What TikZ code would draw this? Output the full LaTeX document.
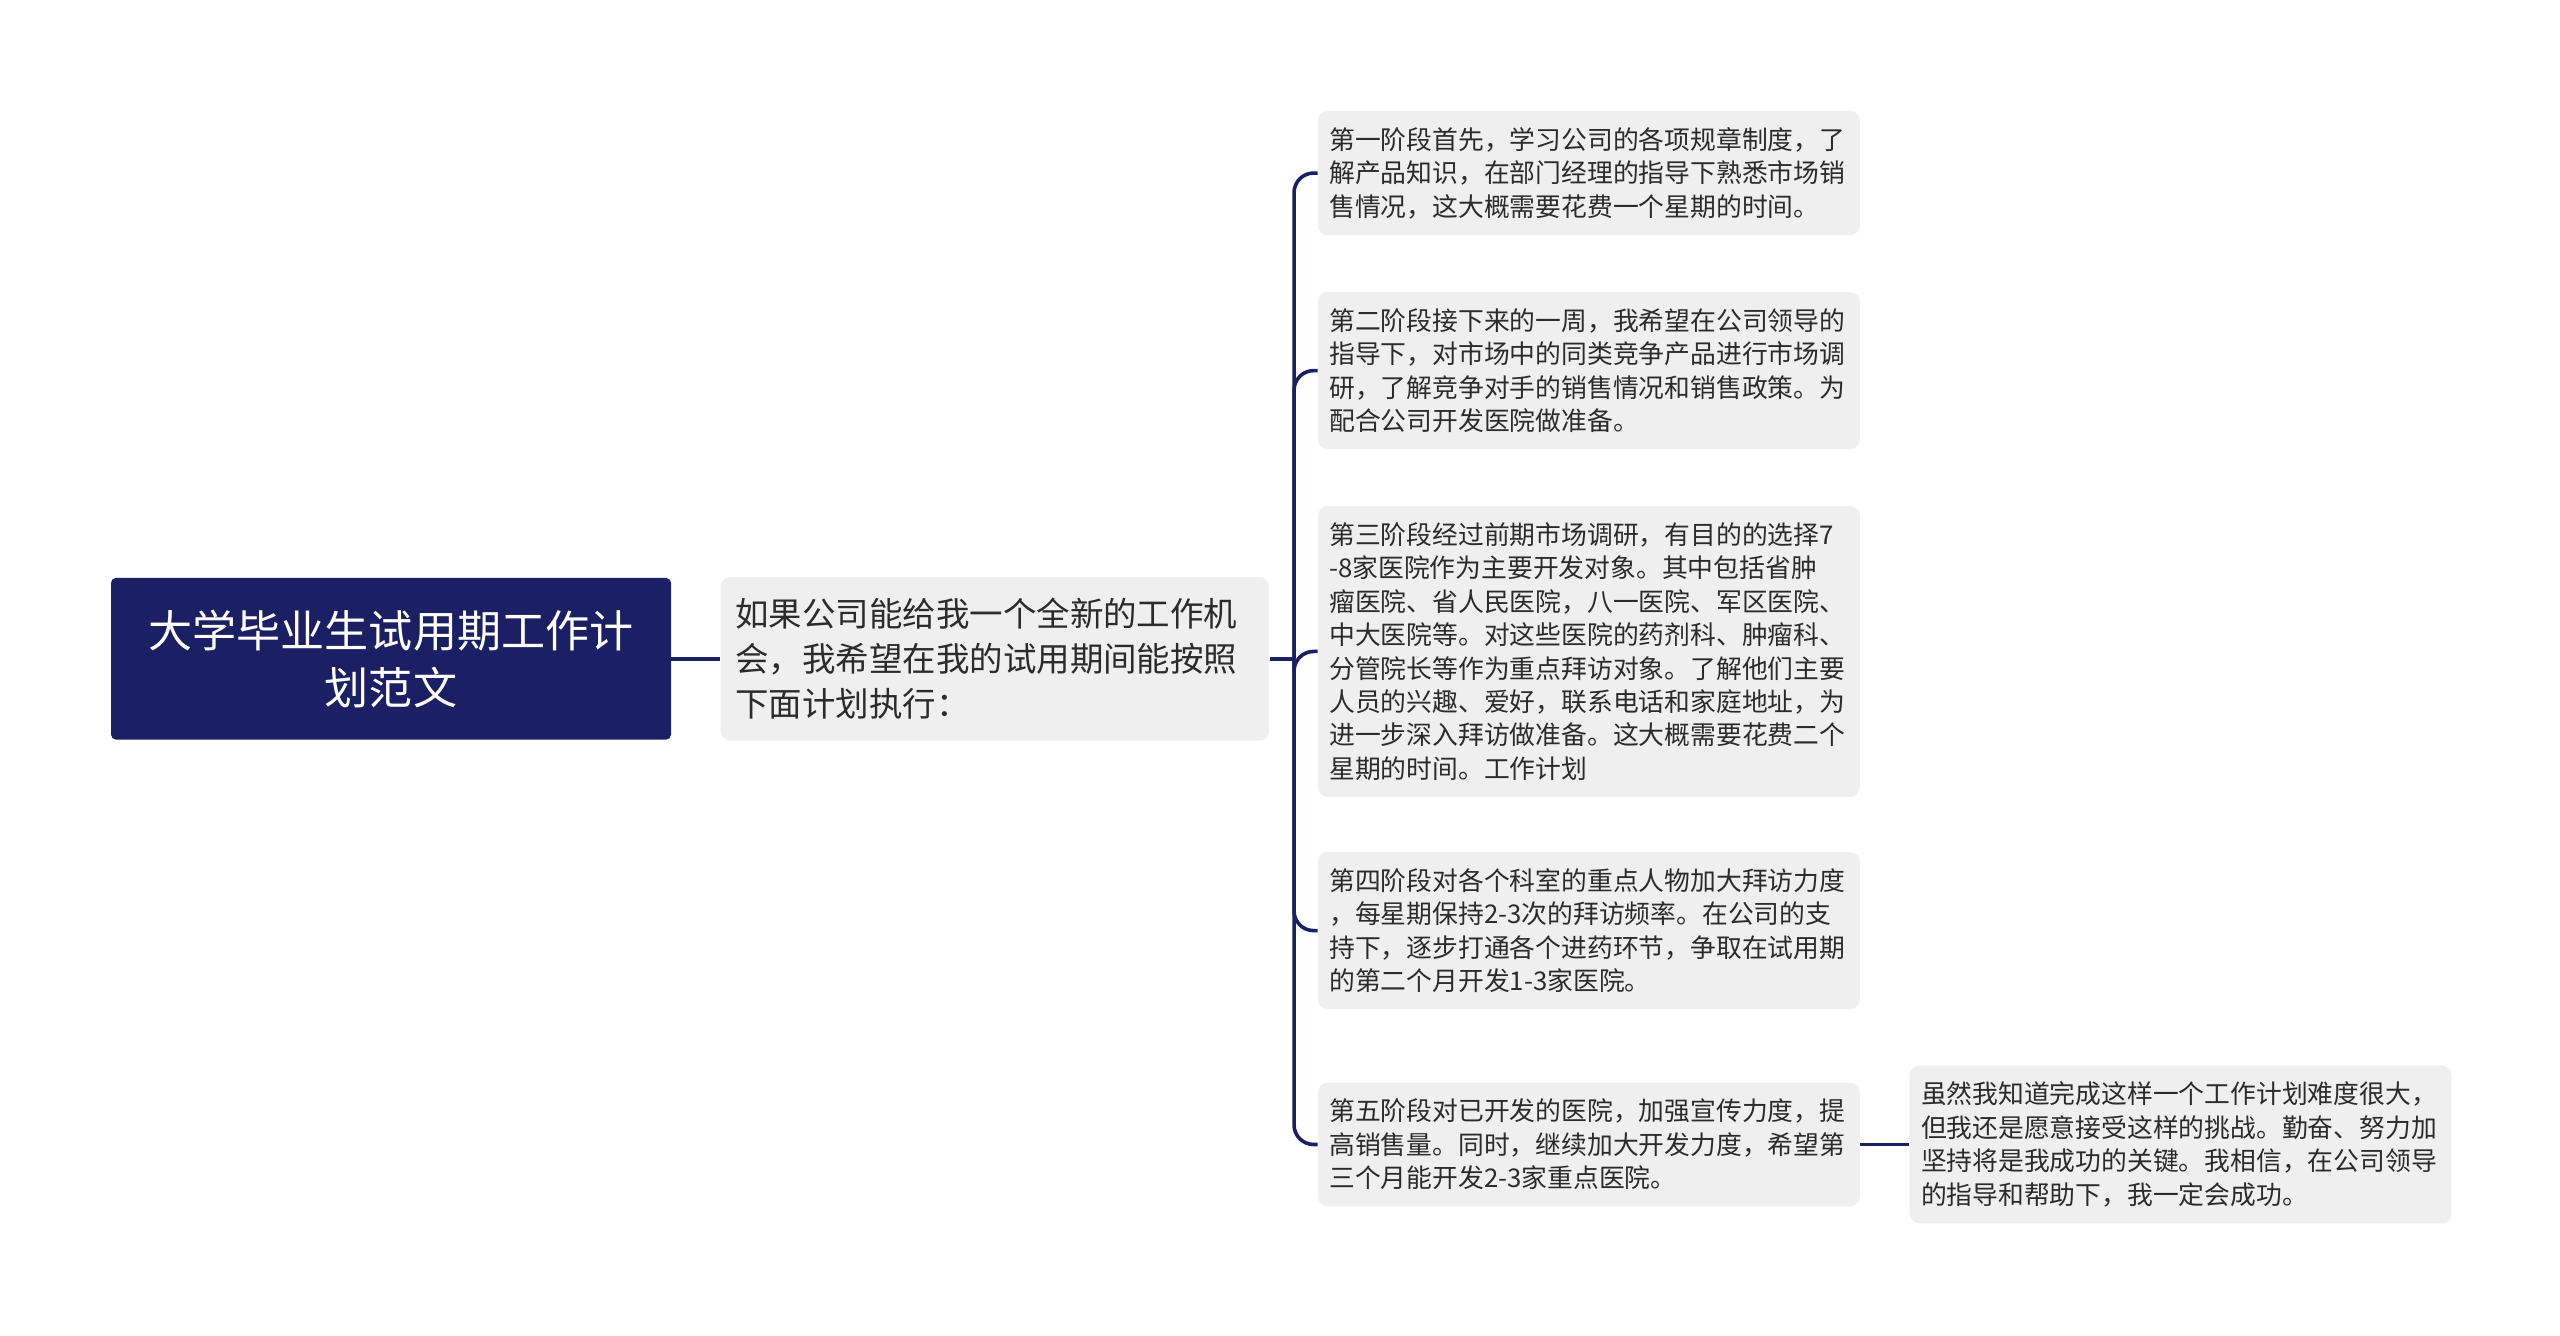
\documentclass[tikz,border=0pt]{standalone}
\usepackage{fontspec}
\setmainfont{Noto Sans CJK SC}
\usepackage{tikz}
\usetikzlibrary{positioning}
\definecolor{navy}{HTML}{1B1F63}
\definecolor{boxgray}{HTML}{EFEFEF}
\definecolor{ink}{HTML}{2B2B2B}

\begin{document}
\begin{tikzpicture}[x=1pt, y=-1pt, node distance=30pt,
  link/.style={draw=navy, line width=2.2pt, rounded corners=12pt},
  leaf/.style={fill=boxgray, text=ink, rounded corners=6pt, align=left, text width=318pt, inner xsep=7pt, inner ysep=10pt, font=\fontsize{15.8}{20.5}\selectfont}]

\useasboundingbox (0,0) rectangle (1568,818);

\node[fill=navy, text=white, rounded corners=3pt, minimum width=343pt, minimum height=99pt, align=center, font=\fontsize{27}{35}\selectfont] (root) at (239.5,403.5) {大学毕业生试用期工作计\\划范文};
\node[leaf, text width=318pt, inner xsep=9pt, inner ysep=13pt, font=\fontsize{20.5}{27.5}\selectfont] (intro) [right=30pt of root] {如果公司能给我一个全新的工作机\\会，我希望在我的试用期间能按照\\下面计划执行：};
\coordinate[right=15pt of intro] (hub);

\node[leaf, anchor=west] (s1) at (807,106) {第一阶段首先，学习公司的各项规章制度，了\\解产品知识，在部门经理的指导下熟悉市场销\\售情况，这大概需要花费一个星期的时间。};
\node[leaf, anchor=west] (s2) at (807,227) {第二阶段接下来的一周，我希望在公司领导的\\指导下，对市场中的同类竞争产品进行市场调\\研，了解竞争对手的销售情况和销售政策。为\\配合公司开发医院做准备。};
\node[leaf, anchor=west] (s3) at (807,399) {第三阶段经过前期市场调研，有目的的选择7\\-8家医院作为主要开发对象。其中包括省肿\\瘤医院、省人民医院，八一医院、军区医院、\\中大医院等。对这些医院的药剂科、肿瘤科、\\分管院长等作为重点拜访对象。了解他们主要\\人员的兴趣、爱好，联系电话和家庭地址，为\\进一步深入拜访做准备。这大概需要花费二个\\星期的时间。工作计划};
\node[leaf, anchor=west] (s4) at (807,570) {第四阶段对各个科室的重点人物加大拜访力度\\，每星期保持2-3次的拜访频率。在公司的支\\持下，逐步打通各个进药环节，争取在试用期\\的第二个月开发1-3家医院。};
\node[leaf, anchor=west] (s5) at (807,701) {第五阶段对已开发的医院，加强宣传力度，提\\高销售量。同时，继续加大开发力度，希望第\\三个月能开发2-3家重点医院。};

\node[leaf] (fin) [right=30pt of s5] {虽然我知道完成这样一个工作计划难度很大，\\但我还是愿意接受这样的挑战。勤奋、努力加\\坚持将是我成功的关键。我相信，在公司领导\\的指导和帮助下，我一定会成功。};

\draw[link] (root) -- (intro);
\draw[link] (intro) -- (hub);
\draw[link] (hub) |- (s1.west);
\draw[link] (hub) |- (s2.west);
\draw[link] (hub) |- (s3.west);
\draw[link] (hub) |- (s4.west);
\draw[link] (hub) |- (s5.west);
\draw[link] (s5) -- (fin);

\end{tikzpicture}
\end{document}
